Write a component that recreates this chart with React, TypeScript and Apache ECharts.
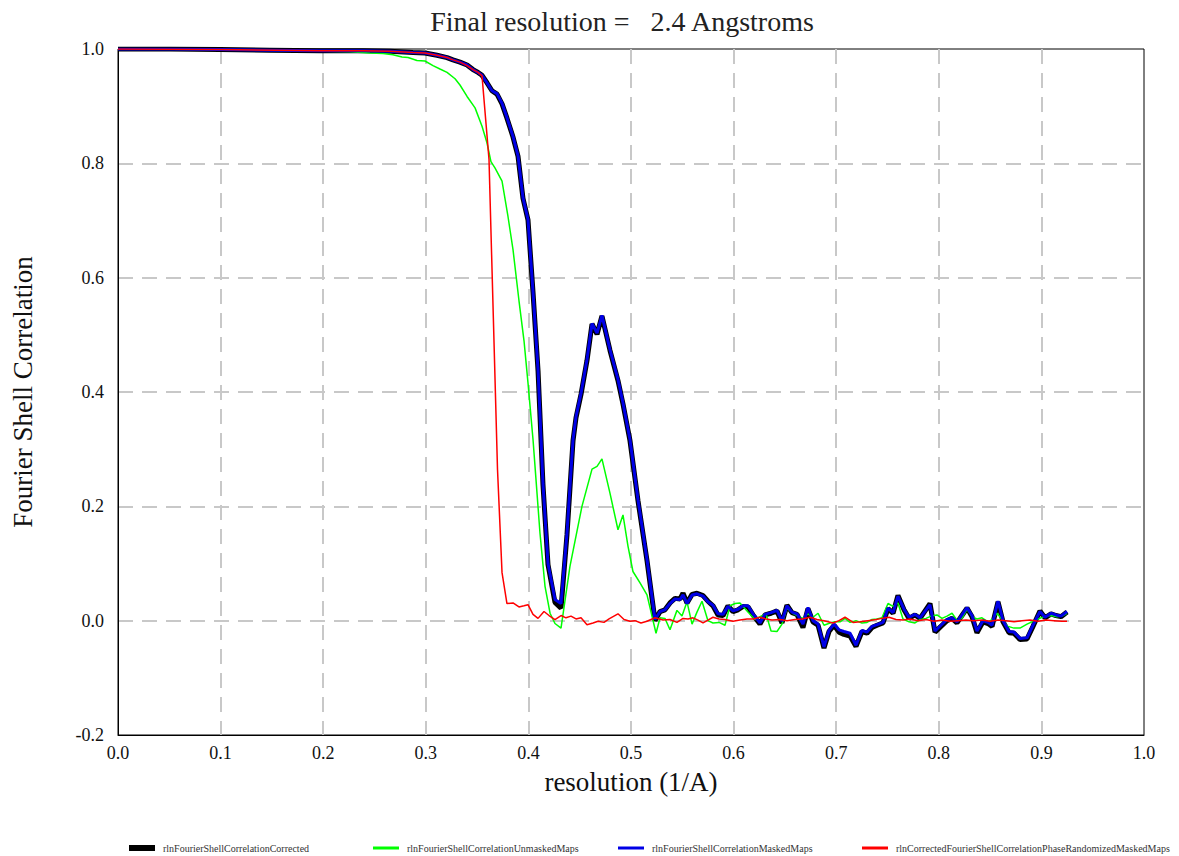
import React, { useEffect, useRef } from "react";
import * as echarts from "echarts";

const TITLE = "Final resolution =   2.4 Angstroms";
const X_NAME = "resolution (1/A)";
const Y_NAME = "Fourier Shell Correlation";
const SERIES_NAMES = [
  "rlnFourierShellCorrelationCorrected",
  "rlnFourierShellCorrelationUnmaskedMaps",
  "rlnFourierShellCorrelationMaskedMaps",
  "rlnCorrectedFourierShellCorrelationPhaseRandomizedMaskedMaps",
];

const masked: [number, number][] = [
  [0, 1.0], [0.0507, 1.0], [0.0994, 0.999], [0.1481, 0.998], [0.1969, 0.997], [0.2388, 0.997],
  [0.2651, 0.996], [0.2875, 0.994], [0.2992, 0.993], [0.3109, 0.989], [0.3207, 0.985], [0.3265, 0.981],
  [0.3333, 0.977], [0.3402, 0.972], [0.346, 0.964], [0.3509, 0.959], [0.3548, 0.954], [0.3596, 0.941],
  [0.3645, 0.927], [0.3694, 0.922], [0.3743, 0.905], [0.3791, 0.88], [0.385, 0.847], [0.3899, 0.813],
  [0.3947, 0.74], [0.3996, 0.702], [0.4045, 0.575], [0.4094, 0.439], [0.4142, 0.24], [0.4191, 0.1],
  [0.4259, 0.037], [0.4318, 0.03], [0.4376, 0.153], [0.4435, 0.317], [0.4464, 0.357], [0.4513, 0.398],
  [0.4571, 0.457], [0.462, 0.52], [0.4669, 0.503], [0.4717, 0.534], [0.4795, 0.474], [0.4873, 0.422],
  [0.4922, 0.381], [0.499, 0.317], [0.5068, 0.212], [0.5156, 0.107], [0.5234, 0.002], [0.5283, 0.016],
  [0.5331, 0.019], [0.538, 0.03], [0.5429, 0.038], [0.5478, 0.037], [0.5507, 0.045], [0.5546, 0.03],
  [0.5595, 0.045], [0.5643, 0.047], [0.5702, 0.043], [0.575, 0.033], [0.5799, 0.027], [0.5848, 0.012],
  [0.5897, 0.011], [0.5945, 0.025], [0.5994, 0.017], [0.6043, 0.02], [0.6092, 0.026], [0.614, 0.026],
  [0.6189, 0.012], [0.6257, -0.004], [0.6306, 0.011], [0.6365, 0.014], [0.6423, 0.018], [0.6472, -0.001],
  [0.652, 0.026], [0.6569, 0.015], [0.6618, 0.012], [0.6676, -0.006], [0.6725, 0.023], [0.6774, 0.0],
  [0.6823, -0.006], [0.6881, -0.046], [0.693, -0.017], [0.6979, -0.006], [0.7027, -0.016], [0.7076, -0.019],
  [0.7135, -0.022], [0.7193, -0.043], [0.7251, -0.017], [0.73, -0.02], [0.7349, -0.01], [0.7398, -0.007],
  [0.7456, -0.003], [0.7505, 0.022], [0.7554, 0.014], [0.7602, 0.043], [0.7661, 0.02], [0.771, 0.006],
  [0.7768, 0.011], [0.7817, 0.005], [0.7914, 0.028], [0.7963, -0.018], [0.8021, -0.008], [0.808, 0.002],
  [0.8129, 0.005], [0.8177, -0.002], [0.8226, 0.01], [0.8275, 0.023], [0.8324, 0.009], [0.8372, -0.018],
  [0.8431, 0.0], [0.848, -0.003], [0.8519, -0.008], [0.8577, 0.034], [0.8626, 0.0], [0.8684, -0.019],
  [0.8733, -0.02], [0.8791, -0.031], [0.886, -0.03], [0.8918, -0.008], [0.8986, 0.016], [0.9035, 0.006],
  [0.9094, 0.013], [0.9142, 0.01], [0.9191, 0.008], [0.925, 0.016],
];

const corrected: [number, number][] = [
  [0, 1.0], [0.0507, 1.0], [0.0994, 0.999], [0.1481, 0.998], [0.1969, 0.997], [0.2388, 0.997],
  [0.2651, 0.996], [0.2875, 0.994], [0.2992, 0.993], [0.3109, 0.989], [0.3207, 0.985], [0.3265, 0.981],
  [0.3333, 0.977], [0.3402, 0.972], [0.346, 0.964], [0.3509, 0.959], [0.3548, 0.954], [0.3596, 0.941],
  [0.3645, 0.927], [0.3694, 0.921], [0.3743, 0.904], [0.3791, 0.879], [0.385, 0.846], [0.3899, 0.812],
  [0.3947, 0.739], [0.3996, 0.701], [0.4045, 0.574], [0.4094, 0.437], [0.4142, 0.238], [0.4191, 0.098],
  [0.4259, 0.032], [0.4318, 0.022], [0.4376, 0.15], [0.4435, 0.315], [0.4464, 0.355], [0.4513, 0.396],
  [0.4571, 0.455], [0.462, 0.519], [0.4669, 0.501], [0.4717, 0.533], [0.4795, 0.473], [0.4873, 0.42],
  [0.4922, 0.379], [0.499, 0.315], [0.5068, 0.21], [0.5156, 0.105], [0.5234, 0.0], [0.5283, 0.016],
  [0.5331, 0.019], [0.538, 0.031], [0.5429, 0.039], [0.5478, 0.038], [0.5507, 0.048], [0.5546, 0.031],
  [0.5595, 0.046], [0.5643, 0.048], [0.5702, 0.044], [0.575, 0.034], [0.5799, 0.026], [0.5848, 0.01],
  [0.5897, 0.009], [0.5945, 0.026], [0.5994, 0.016], [0.6043, 0.019], [0.6092, 0.025], [0.614, 0.024],
  [0.6189, 0.01], [0.6257, -0.006], [0.6306, 0.01], [0.6365, 0.013], [0.6423, 0.017], [0.6472, -0.004],
  [0.652, 0.027], [0.6569, 0.014], [0.6618, 0.011], [0.6676, -0.012], [0.6725, 0.021], [0.6774, -0.002],
  [0.6823, -0.008], [0.6881, -0.048], [0.693, -0.019], [0.6979, -0.008], [0.7027, -0.02], [0.7076, -0.024],
  [0.7135, -0.027], [0.7193, -0.045], [0.7251, -0.019], [0.73, -0.022], [0.7349, -0.012], [0.7398, -0.008],
  [0.7456, -0.004], [0.7505, 0.021], [0.7554, 0.013], [0.7602, 0.044], [0.7661, 0.019], [0.771, 0.004],
  [0.7768, 0.01], [0.7817, 0.004], [0.7914, 0.03], [0.7963, -0.02], [0.8021, -0.01], [0.808, 0.0],
  [0.8129, 0.004], [0.8177, -0.004], [0.8226, 0.009], [0.8275, 0.022], [0.8324, 0.007], [0.8372, -0.021],
  [0.8431, -0.002], [0.848, -0.005], [0.8519, -0.01], [0.8577, 0.033], [0.8626, -0.002], [0.8684, -0.021],
  [0.8733, -0.022], [0.8791, -0.033], [0.886, -0.032], [0.8918, -0.01], [0.8986, 0.017], [0.9035, 0.005],
  [0.9094, 0.012], [0.9142, 0.009], [0.9191, 0.007], [0.925, 0.015],
];

const unmasked: [number, number][] = [
  [0, 1.0], [0.0994, 0.999], [0.1774, 0.997], [0.2261, 0.995], [0.2456, 0.993], [0.2583, 0.992],
  [0.268, 0.99], [0.2768, 0.986], [0.2827, 0.985], [0.2914, 0.98], [0.2992, 0.979], [0.307, 0.971],
  [0.3138, 0.965], [0.3207, 0.959], [0.3285, 0.948], [0.3333, 0.937], [0.3402, 0.917], [0.348, 0.897],
  [0.3548, 0.865], [0.3596, 0.836], [0.3635, 0.803], [0.3674, 0.792], [0.3743, 0.769], [0.3801, 0.707],
  [0.385, 0.649], [0.3908, 0.56], [0.3957, 0.49], [0.3996, 0.416], [0.4045, 0.317], [0.4113, 0.153],
  [0.4162, 0.06], [0.4211, 0.013], [0.4259, -0.005], [0.4318, -0.013], [0.4405, 0.095], [0.4522, 0.2],
  [0.462, 0.265], [0.4669, 0.27], [0.4717, 0.283], [0.4795, 0.223], [0.4873, 0.159], [0.4922, 0.185],
  [0.4971, 0.13], [0.5019, 0.086], [0.5088, 0.066], [0.5156, 0.045], [0.5244, -0.022], [0.5283, 0.005],
  [0.5331, 0.004], [0.538, -0.016], [0.5448, 0.018], [0.5497, 0.008], [0.5546, 0.033], [0.5595, -0.006],
  [0.5643, 0.015], [0.5692, 0.034], [0.575, 0.0], [0.5799, -0.004], [0.5858, -0.003], [0.5916, -0.008],
  [0.5965, 0.026], [0.6014, 0.03], [0.6062, 0.031], [0.614, 0.015], [0.6209, 0.002], [0.6267, 0.008],
  [0.6316, 0.012], [0.6365, -0.018], [0.6423, -0.019], [0.6472, -0.006], [0.652, 0.022], [0.6579, 0.013],
  [0.6628, 0.008], [0.6676, 0.004], [0.6725, 0.012], [0.6774, 0.006], [0.6823, 0.013], [0.6881, -0.008],
  [0.694, -0.004], [0.6989, -0.002], [0.7037, -0.002], [0.7086, 0.004], [0.7135, -0.003], [0.7193, 0.0],
  [0.7251, -0.004], [0.73, -0.003], [0.7349, 0.002], [0.7398, 0.003], [0.7446, 0.005], [0.7505, 0.03],
  [0.7554, 0.025], [0.7602, 0.031], [0.7651, 0.003], [0.771, -0.002], [0.7768, -0.004], [0.7817, 0.002],
  [0.7875, 0.004], [0.7924, 0.008], [0.7982, 0.01], [0.8031, 0.004], [0.808, 0.008], [0.8129, 0.013],
  [0.8177, 0.001], [0.8226, 0.004], [0.8275, 0.02], [0.8324, 0.007], [0.8372, 0.003], [0.8421, 0.005],
  [0.848, -0.002], [0.8528, 0.003], [0.8567, 0.013], [0.8626, 0.0], [0.8674, -0.01], [0.8733, -0.013],
  [0.8791, -0.013], [0.886, -0.006], [0.8908, -0.002], [0.8957, 0.002], [0.9035, 0.008], [0.9094, 0.009],
  [0.9152, 0.007], [0.9201, 0.008], [0.925, 0.013],
];

const phaseRandomized: [number, number][] = [
  [0, 1.0], [0.0994, 0.999], [0.1969, 0.997], [0.2388, 0.997], [0.2651, 0.996], [0.2875, 0.994],
  [0.2992, 0.993], [0.3109, 0.989], [0.3207, 0.985], [0.3265, 0.981], [0.3333, 0.977], [0.3402, 0.971],
  [0.346, 0.964], [0.3509, 0.959], [0.3548, 0.953], [0.3616, 0.807], [0.3699, 0.264], [0.3743, 0.084],
  [0.3791, 0.03], [0.385, 0.031], [0.3908, 0.024], [0.3957, 0.026], [0.3996, 0.028], [0.4045, 0.011],
  [0.4094, 0.004], [0.4152, 0.016], [0.4201, 0.009], [0.4259, 0.002], [0.4318, 0.009], [0.4366, 0.005],
  [0.4415, 0.008], [0.4464, 0.003], [0.4513, 0.005], [0.4571, -0.007], [0.463, -0.004], [0.4678, -0.001],
  [0.4737, -0.003], [0.4786, 0.003], [0.4873, 0.012], [0.4932, 0.002], [0.499, -0.001], [0.5039, 0.0],
  [0.5097, -0.004], [0.5156, -0.001], [0.5234, 0.005], [0.5312, 0.001], [0.538, 0.002], [0.5448, -0.003],
  [0.5507, 0.004], [0.5556, 0.003], [0.5604, 0.005], [0.5653, 0.001], [0.5702, -0.004], [0.575, 0.001],
  [0.5799, 0.006], [0.5858, 0.003], [0.5916, 0.002], [0.5994, -0.001], [0.6062, 0.001], [0.6131, 0.003],
  [0.6189, 0.003], [0.6257, 0.006], [0.6316, 0.003], [0.6374, 0.001], [0.6452, 0.002], [0.652, 0.0],
  [0.6598, 0.002], [0.6667, 0.003], [0.6745, 0.006], [0.6813, 0.002], [0.6881, 0.0], [0.6969, -0.004],
  [0.7027, 0.0], [0.7086, 0.006], [0.7164, -0.003], [0.7232, -0.002], [0.731, 0.0], [0.7388, 0.002],
  [0.7446, 0.004], [0.7515, 0.006], [0.7583, 0.002], [0.7651, 0.001], [0.7719, 0.003], [0.7797, 0.0],
  [0.7875, 0.002], [0.7953, -0.001], [0.8031, 0.001], [0.8109, -0.001], [0.8187, 0.0], [0.8265, 0.001],
  [0.8343, 0.0], [0.8421, 0.001], [0.8499, -0.001], [0.8577, 0.001], [0.8655, 0.0], [0.8733, -0.002],
  [0.8811, 0.0], [0.8889, 0.001], [0.8967, -0.001], [0.9045, 0.001], [0.9123, 0.0], [0.9201, -0.001],
  [0.925, -0.001],
];

const SERIES_DATA = [corrected, unmasked, masked, phaseRandomized];
const SERIES_COLORS = ["#000000", "#00ff00", "#0000e6", "#ff0000"];
const SERIES_WIDTHS = [5, 1.5, 3, 1.5];
const LEGEND_LEFTS = [124, 368, 613, 857];
const LEGEND_ICON_H = [6, 3, 3, 3];

const FONT = "Liberation Serif";

const fmt = (v: number) => (Math.abs(v) < 1e-9 ? 0 : v).toFixed(1);

export default function App() {
  const ref = useRef<HTMLDivElement>(null);
  useEffect(() => {
    if (!ref.current) return;
    const chart = echarts.init(ref.current, undefined, { renderer: "svg" });
    const option: any = {
      animation: false,
      backgroundColor: "#ffffff",
      textStyle: { fontFamily: FONT },
      title: {
        text: TITLE,
        left: 617,
        top: 2,
        textAlign: "center",
        textStyle: { fontFamily: FONT, fontSize: 28, fontWeight: "normal", color: "#222" },
      },
      grid: {
        left: 118,
        right: 35,
        top: 49,
        bottom: 121,
        show: true,
        borderColor: "#000",
        borderWidth: 1,
        backgroundColor: "transparent",
      },
      legend: SERIES_NAMES.map((n, i) => ({
        data: [n],
        left: LEGEND_LEFTS[i],
        top: 838,
        icon: "rect",
        itemWidth: 26,
        itemHeight: LEGEND_ICON_H[i],
        selectedMode: false,
        textStyle: { fontFamily: FONT, fontSize: 10, color: "#333", padding: [0, 0, 0, 3] },
      })),
      xAxis: {
        type: "value",
        min: 0,
        max: 1,
        interval: 0.1,
        name: X_NAME,
        nameLocation: "middle",
        nameGap: 33,
        nameTextStyle: { fontFamily: FONT, fontSize: 27, color: "#111" },
        axisLine: { show: true, onZero: false, lineStyle: { color: "#000", width: 1 } },
        axisTick: { show: false },
        axisLabel: { fontFamily: FONT, fontSize: 18, color: "#111", margin: 9, formatter: fmt },
        splitLine: {
          show: true,
          showMinLine: false,
          showMaxLine: false,
          lineStyle: { color: "#c8c8c8", width: 2, type: [15, 9] },
        },
      },
      yAxis: {
        type: "value",
        min: -0.2,
        max: 1.0,
        interval: 0.2,
        name: Y_NAME,
        nameLocation: "middle",
        nameGap: 82,
        nameRotate: 90,
        nameTextStyle: { fontFamily: FONT, fontSize: 27, color: "#111" },
        axisLine: { show: true, onZero: false, lineStyle: { color: "#000", width: 1 } },
        axisTick: { show: false },
        axisLabel: { fontFamily: FONT, fontSize: 18, color: "#111", margin: 14, formatter: fmt },
        splitLine: {
          show: true,
          showMinLine: false,
          showMaxLine: false,
          lineStyle: { color: "#c8c8c8", width: 2, type: [15, 9] },
        },
      },
      series: SERIES_NAMES.map((n, i) => ({
        name: n,
        type: "line",
        data: SERIES_DATA[i],
        showSymbol: false,
        symbol: "none",
        silent: true,
        color: SERIES_COLORS[i],
        lineStyle: { color: SERIES_COLORS[i], width: SERIES_WIDTHS[i] },
        itemStyle: { color: SERIES_COLORS[i] },
        emphasis: { disabled: true },
      })),
    };
    chart.setOption(option);
    return () => chart.dispose();
  }, []);
  return (
    <div
      ref={ref}
      style={{ position: "fixed", left: 0, top: 0, width: 1179, height: 856, background: "#fff" }}
    />
  );
}
